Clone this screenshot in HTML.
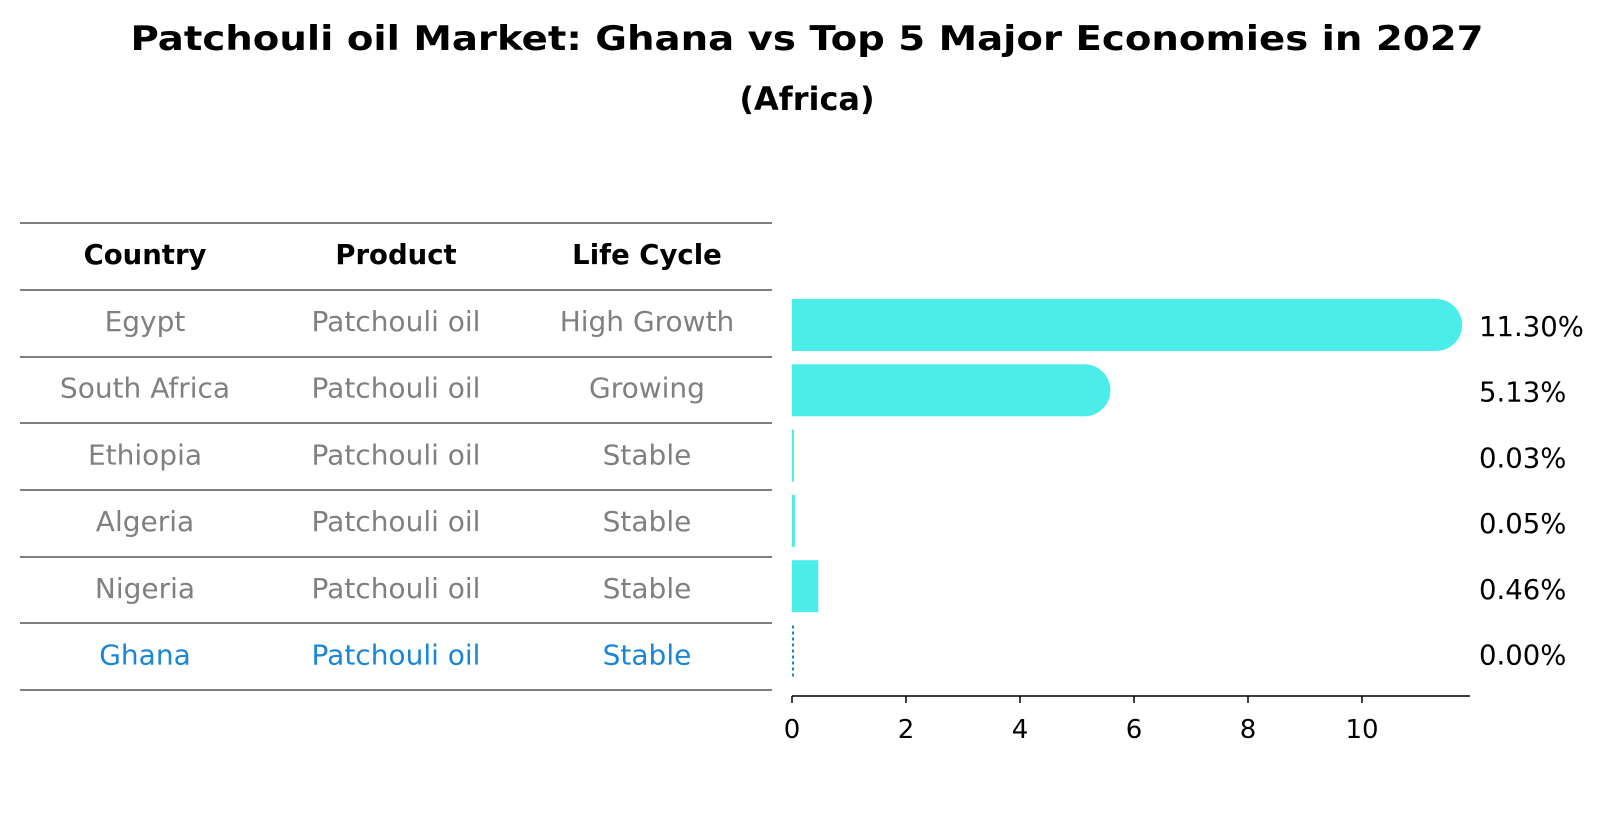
<!DOCTYPE html>
<html><head><meta charset="utf-8"><style>
body{margin:0;background:#fff}
svg text{font-family:"DejaVu Sans","Liberation Sans",sans-serif}
</style></head><body>
<svg id="chart" width="1604" height="823" viewBox="0 0 1604 823" xmlns="http://www.w3.org/2000/svg">
<text x="807" y="50" text-anchor="middle" font-size="34" font-weight="bold" textLength="1353" lengthAdjust="spacingAndGlyphs">Patchouli oil Market: Ghana vs Top 5 Major Economies in 2027</text>
<text x="807" y="110" text-anchor="middle" font-size="32" font-weight="bold">(Africa)</text>
<g id="table"></g>
<g id="bars"></g>
</svg>
<script>
const countries=["Egypt","South Africa","Ethiopia","Algeria","Nigeria","Ghana"];
const products=["Patchouli oil","Patchouli oil","Patchouli oil","Patchouli oil","Patchouli oil","Patchouli oil"];
const lifeCycles=["High Growth","Growing","Stable","Stable","Stable","Stable"];
const values=[11.30,5.13,0.03,0.05,0.46,0.00];
const valueLabels=["11.30%","5.13%","0.03%","0.05%","0.46%","0.00%"];
const ticks=[0,2,4,6,8,10];

const NS="http://www.w3.org/2000/svg";
function mk(tag,attrs,parent){const e=document.createElementNS(NS,tag);for(const k in attrs)e.setAttribute(k,attrs[k]);parent.appendChild(e);return e;}
const table=document.getElementById('table');
const bars=document.getElementById('bars');
const x0=792,pxPerUnit=57;
function xs(v){return x0+v*pxPerUnit;}
function rowY(i){return 325+i*65.3;}

const lineYs=[223,290,357,423,490,557,623,690];
lineYs.forEach((y,i)=>{const l=mk('line',{x1:20,x2:772,y1:y,y2:y,stroke:'#000','stroke-width':1},table);

});
const colX=[145,396,647];
["Country","Product","Life Cycle"].forEach((h,j)=>{const t=mk('text',{x:colX[j],y:264,'text-anchor':'middle','font-size':27.5,'font-weight':'bold'},table);t.textContent=h;

});
countries.forEach((c,i)=>{
  const col=c==="Ghana"?'#1a86d9':'#808080';
  [c,products[i],lifeCycles[i]].forEach((s,j)=>{
    const t=mk('text',{x:colX[j],y:331+i*66.7,'text-anchor':'middle','font-size':28,fill:col},table);t.textContent=s;
    
    
  });
});

const bh=52;
values.forEach((v,i)=>{
  const cy=rowY(i);
  if(countries[i]==="Ghana"){
    const l=mk('line',{x1:xs(v)+1,x2:xs(v)+1,y1:cy-26,y2:cy+26,stroke:'#1a86d9','stroke-width':2,'stroke-dasharray':'3,3'},bars);
    
    
  } else {
    const w=Math.max(xs(v)-x0,2);
    const r=mk('rect',{x:x0,y:cy-bh/2,width:w,height:bh,fill:'#4BEDE9'},bars);
    
    
    if(v>1){
      const c=mk('circle',{cx:xs(v),cy:cy,r:bh/2,fill:'#4BEDE9'},bars);
      
      
    }
  }
  const t=mk('text',{x:1479,y:336+i*65.7,'font-size':27.5,fill:'#000'},bars);t.textContent=valueLabels[i];
  
  
});
const ax=mk('line',{x1:x0,x2:1470,y1:696,y2:696,stroke:'#000','stroke-width':1.5},bars);


ticks.forEach(tv=>{
  const tk=mk('line',{x1:xs(tv),x2:xs(tv),y1:696,y2:703,stroke:'#000','stroke-width':1.5},bars);
  
  
  const t=mk('text',{x:xs(tv),y:738,'text-anchor':'middle','font-size':26},bars);t.textContent=tv;
  
  
});
</script>
</body></html>
